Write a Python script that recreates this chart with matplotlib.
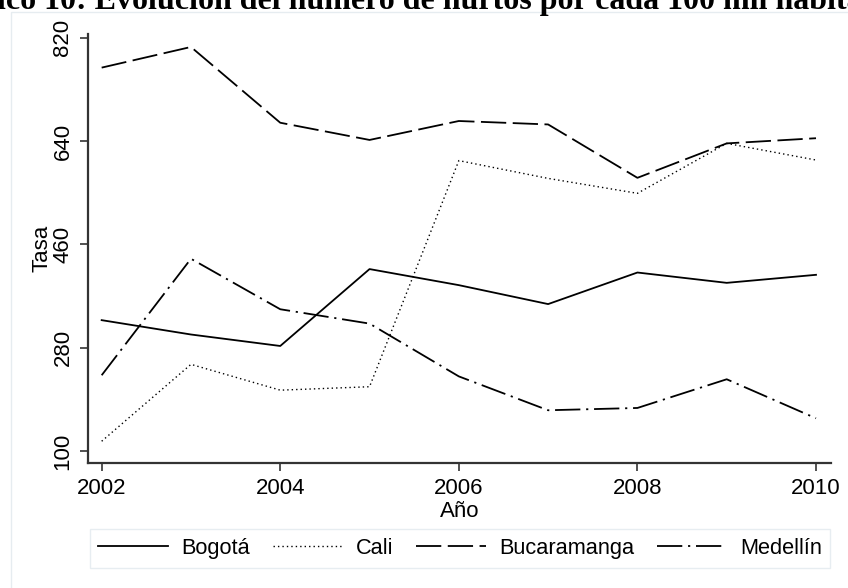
import matplotlib
matplotlib.use("Agg")
import matplotlib.pyplot as plt
from matplotlib.patches import Rectangle

plt.rcParams['font.family'] = ['Liberation Sans', 'DejaVu Sans']

anios = [2002, 2003, 2004, 2005, 2006, 2007, 2008, 2009, 2010]
bogota = [328, 303, 283, 417, 389, 356, 411, 393, 407]
cali = [117, 251, 206, 212, 606, 575, 549, 636, 607]
bucaramanga = [768, 804, 672, 642, 675, 669, 576, 636, 645]
medellin = [232, 435, 347, 322, 230, 171, 175, 225, 157]

y_ticks = [100, 280, 460, 640, 820]
x_ticks = [2002, 2004, 2006, 2008, 2010]

W, H = 848, 588
fig = plt.figure(figsize=(W / 100, H / 100), dpi=100)
ax = fig.add_axes([88 / W, 1 - 463 / H, (831 - 88) / W, (463 - 34) / H])

lw = 1.3
ax.plot(anios, bogota, color='black', lw=lw, ls='-', label='Bogotá')
ax.plot(anios, cali, color='black', lw=1.0, ls=(0, (1, 2.2)), label='Cali')
ax.plot(anios, bucaramanga, color='black', lw=lw, ls=(0, (14, 3.6)), label='Bucaramanga')
ax.plot(anios, medellin, color='black', lw=lw, ls=(0, (14, 3.2, 1.2, 3.2)), label='Medellín')

ax.set_xlim(2001.847, 2010.168)
ax.set_ylim(79.1, 826.6)
ax.set_xticks(x_ticks)
ax.set_yticks(y_ticks)

for s in ['top', 'right']:
    ax.spines[s].set_visible(False)
for s in ['left', 'bottom']:
    ax.spines[s].set_linewidth(1.6)
    ax.spines[s].set_color('#333333')

ax.tick_params(axis='both', direction='out', length=6, width=1.2,
               color='#333333', labelsize=16)
ax.tick_params(axis='y', pad=4.5)
ax.tick_params(axis='x', pad=5)
plt.setp(ax.get_yticklabels(), rotation=90, va='center')

ax.set_ylabel('Tasa', fontsize=16, labelpad=0)
ax.set_xlabel('Año', fontsize=16, labelpad=1)

leg = ax.legend(loc='center', bbox_to_anchor=(460 / W, 1 - 548.5 / H),
                bbox_transform=fig.transFigure, ncol=4, fontsize=15.7,
                frameon=True, fancybox=False, handlelength=3.2,
                handletextpad=0.6, columnspacing=1.05, borderpad=0.4,
                borderaxespad=0)
leg.get_frame().set_edgecolor('#e2e9ee')
leg.get_frame().set_linewidth(1.0)

# marco exterior (recortado)
fig.patches.append(Rectangle((11 / W, -0.2), 1.2, 1 - 12 / H + 0.2,
                             transform=fig.transFigure, fill=False,
                             edgecolor='#e6ecf0', lw=1.0))

fig.text(0.5, 1 - 9.5 / H,
         'Gráfico 10: Evolución del número de hurtos por cada 100 mil habitantes',
         ha='center', va='baseline', fontsize=23, fontweight='bold',
         family=['Liberation Serif', 'DejaVu Serif'])

fig.savefig('out.png', dpi=100)
